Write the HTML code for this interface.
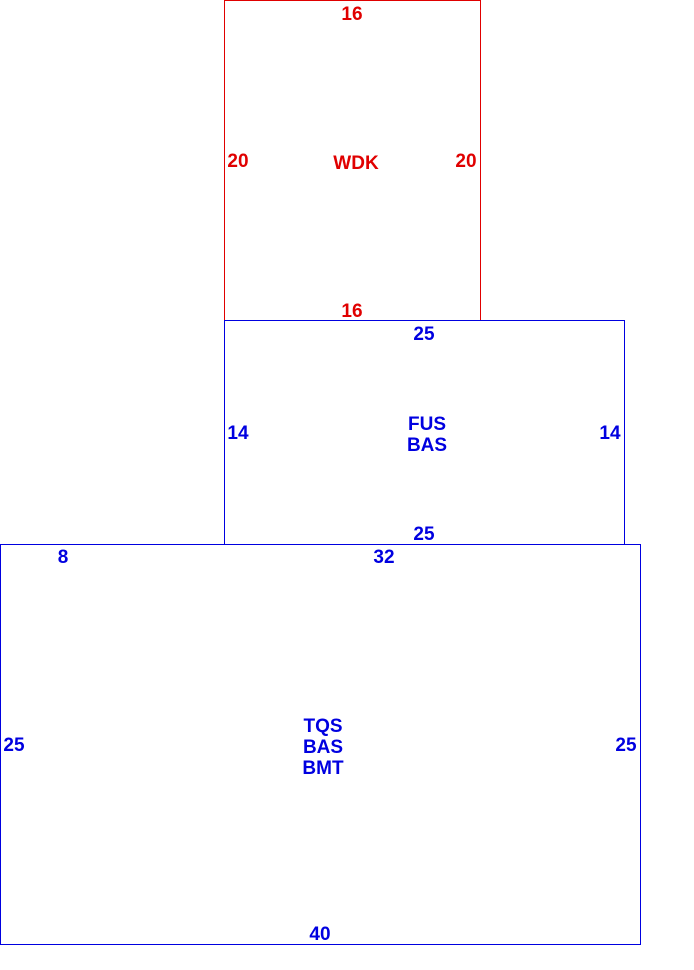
<!DOCTYPE html>
<html><head><style>body{margin:0;background:#fff}svg{display:block}text{font-family:"Liberation Sans",Arial,sans-serif;font-weight:bold;font-size:19px;text-anchor:middle}</style></head>
<body>
<svg width="694" height="970" xmlns="http://www.w3.org/2000/svg">
<rect x="224.5" y="0.5" width="256" height="320" fill="none" stroke="#e00000" stroke-width="1"/>
<rect x="224.5" y="320.5" width="400" height="224" fill="none" stroke="#0000e0" stroke-width="1"/>
<rect x="0.5" y="544.5" width="640" height="400" fill="none" stroke="#0000e0" stroke-width="1"/>
<g fill="#e00000">
<text x="352" y="20">16</text>
<text x="238" y="167">20</text>
<text x="466" y="167">20</text>
<text x="356" y="169">WDK</text>
<text x="352" y="317">16</text>
</g>
<g fill="#0000e0">
<text x="424" y="340">25</text>
<text x="238" y="439">14</text>
<text x="610" y="439">14</text>
<text x="427" y="430">FUS</text>
<text x="427" y="451">BAS</text>
<text x="424" y="540">25</text>
<text x="63" y="563">8</text>
<text x="384" y="563">32</text>
<text x="14" y="751">25</text>
<text x="626" y="751">25</text>
<text x="323" y="732">TQS</text>
<text x="323" y="753">BAS</text>
<text x="323" y="774">BMT</text>
<text x="320" y="940">40</text>
</g>
</svg>
</body></html>
